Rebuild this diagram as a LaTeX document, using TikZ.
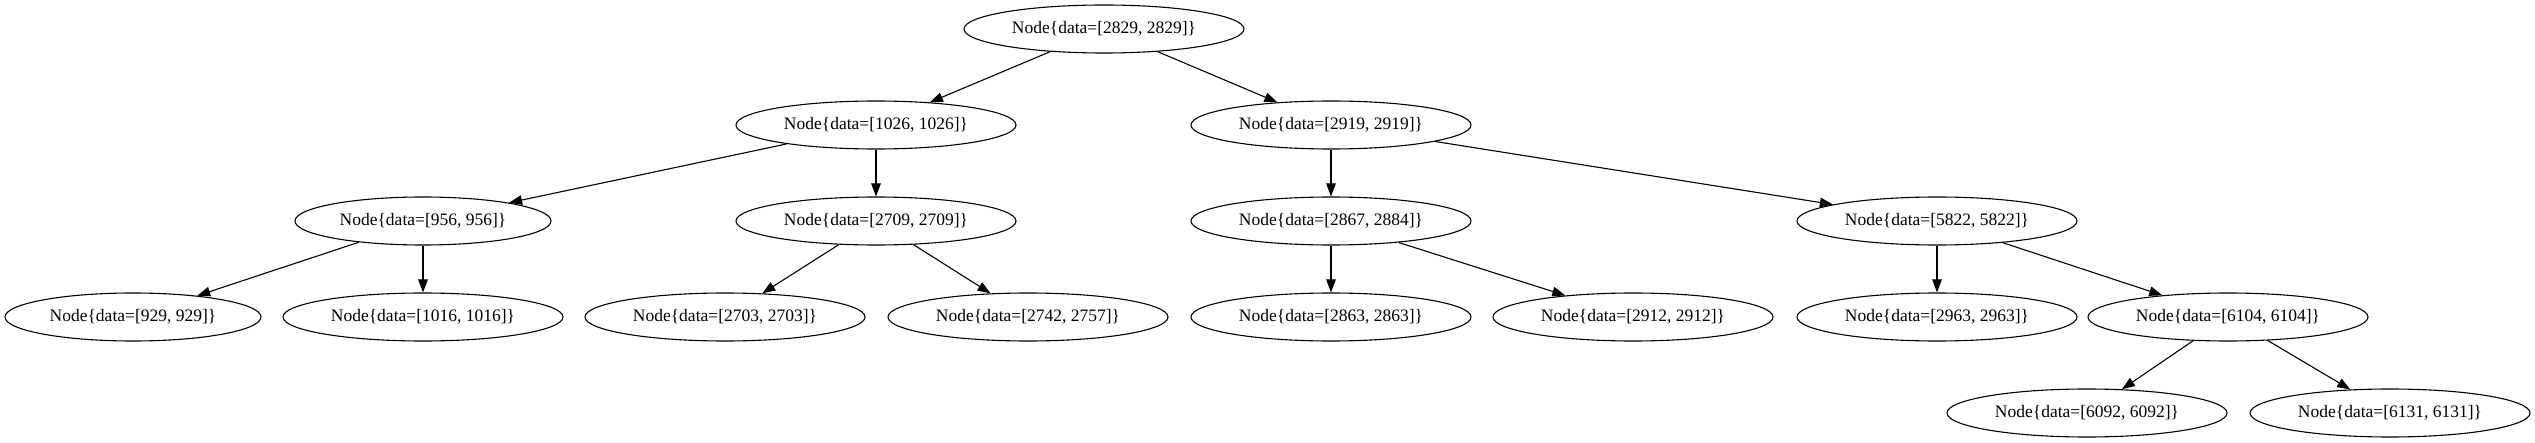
\documentclass[tikz,border=0pt]{standalone}
\usepackage{fontspec}
\setmainfont{Liberation Serif}
\usetikzlibrary{shapes.geometric,arrows.meta}
\begin{document}
\begin{tikzpicture}[x=1pt,y=-1pt,
  tnode/.style={draw,ellipse,line width=1.1pt,inner sep=0pt,minimum width=280pt,minimum height=48pt,font=\fontsize{17.5}{20}\selectfont},
  snode/.style={tnode,minimum width=256pt},
  edge/.style={line width=1.1pt,-{Triangle[length=13pt,width=9.5pt]}}]
\useasboundingbox (0,0) rectangle (2535,443);
\node[tnode] (r) at (1104,29) {Node\{data=[2829, 2829]\}};
\node[tnode] (a) at (876,125) {Node\{data=[1026, 1026]\}};
\node[tnode] (b) at (1331,125) {Node\{data=[2919, 2919]\}};
\node[snode] (c) at (423,221) {Node\{data=[956, 956]\}};
\node[tnode] (d) at (876,221) {Node\{data=[2709, 2709]\}};
\node[tnode] (e) at (1331,221) {Node\{data=[2867, 2884]\}};
\node[tnode] (f) at (1937,221) {Node\{data=[5822, 5822]\}};
\node[snode] (g) at (133,317) {Node\{data=[929, 929]\}};
\node[tnode] (h) at (423,317) {Node\{data=[1016, 1016]\}};
\node[tnode] (i) at (725,317) {Node\{data=[2703, 2703]\}};
\node[tnode] (j) at (1028,317) {Node\{data=[2742, 2757]\}};
\node[tnode] (k) at (1331,317) {Node\{data=[2863, 2863]\}};
\node[tnode] (l) at (1633,317) {Node\{data=[2912, 2912]\}};
\node[tnode] (m) at (1937,317) {Node\{data=[2963, 2963]\}};
\node[tnode] (n) at (2228,317) {Node\{data=[6104, 6104]\}};
\node[tnode] (o) at (2087,413) {Node\{data=[6092, 6092]\}};
\node[tnode] (p) at (2390,413) {Node\{data=[6131, 6131]\}};
\draw[edge] (r) -- (a);
\draw[edge] (r) -- (b);
\draw[edge] (a) -- (c);
\draw[edge] (a) -- (d);
\draw[edge] (b) -- (e);
\draw[edge] (b) -- (f);
\draw[edge] (c) -- (g);
\draw[edge] (c) -- (h);
\draw[edge] (d) -- (i);
\draw[edge] (d) -- (j);
\draw[edge] (e) -- (k);
\draw[edge] (e) -- (l);
\draw[edge] (f) -- (m);
\draw[edge] (f) -- (n);
\draw[edge] (n) -- (o);
\draw[edge] (n) -- (p);
\end{tikzpicture}
\end{document}
